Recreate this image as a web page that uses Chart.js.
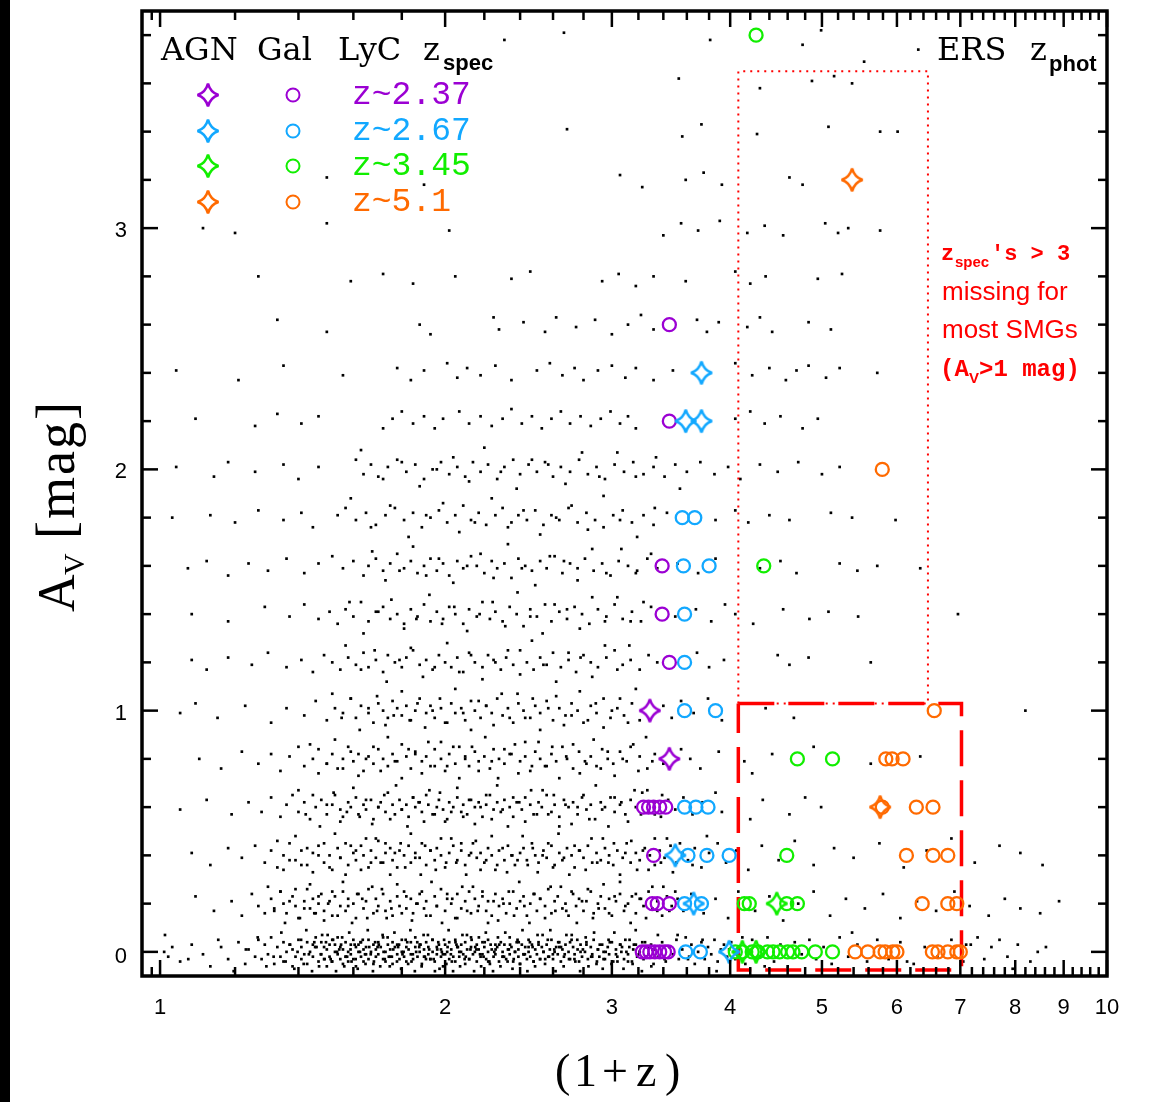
<!DOCTYPE html>
<html>
<head>
<meta charset="utf-8">
<script src="https://cdn.jsdelivr.net/npm/chart.js@4.4.1/dist/chart.umd.min.js"></script>
<style>
  html, body { margin: 0; padding: 0; background: #fff; }
  #wrap { width: 1163px; height: 1102px; }
</style>
</head>
<body>
<div id="wrap"><canvas id="c" width="1163" height="1102"></canvas></div>
<script>
// ---- background ERS photometric sample, arrays per Av step: [1+z, Av] ----
const dotsAv00 = [[1.01,0.00],[1.02,-0.02],[1.03,0.02],[1.05,-0.04],[1.08,0.03],[1.11,-0.01],[1.13,-0.06],[1.16,0.02],[1.18,-0.03],[1.21,0.04],[1.23,-0.05],[1.24,0.01],[1.26,-0.02],[1.27,0.05],
  [1.28,-0.03],[1.29,0.03],[1.30,-0.01],[1.31,0.06],[1.32,-0.05],[1.33,0.02],[1.34,-0.02],[1.35,0.04],[1.35,-0.04],[1.36,0.00],[1.37,0.03],[1.38,-0.06],[1.38,0.01],[1.39,-0.02],[1.40,0.05],[1.41,-0.03],[1.41,0.02],[1.42,-0.01],[1.43,0.04],[1.43,-0.05],[1.44,0.00],[1.45,0.03],[1.45,-0.02],[1.46,0.06],[1.47,-0.04],
  [1.48,-0.01],[1.48,0.04],[1.49,-0.03],[1.49,0.02],[1.50,-0.06],[1.50,0.01],[1.51,0.03],[1.51,-0.02],[1.52,0.05],[1.52,-0.04],[1.53,0.00],[1.53,0.03],[1.54,-0.01],[1.54,0.06],[1.55,-0.03],[1.55,0.02],[1.56,-0.05],[1.56,0.01],[1.57,0.04],[1.57,-0.02],[1.58,0.00],[1.58,-0.04],[1.59,0.03],[1.59,-0.01],[1.60,0.05],[1.60,-0.03],
  [1.61,0.02],[1.61,-0.06],[1.62,0.00],[1.62,0.03],[1.63,-0.02],[1.63,0.04],[1.64,-0.04],[1.64,0.01],[1.65,0.02],[1.65,-0.01],[1.66,0.05],[1.66,-0.03],[1.67,0.00],[1.68,0.03],[1.68,-0.05],[1.69,0.01],[1.69,-0.02],[1.70,0.04],[1.70,-0.01],[1.71,0.02],[1.72,-0.03],[1.72,0.06],[1.73,0.00],[1.73,-0.04],
  [1.74,0.03],[1.75,-0.02],[1.75,0.01],[1.76,0.04],[1.76,-0.05],[1.77,0.02],[1.78,-0.01],[1.78,0.03],[1.79,-0.03],[1.80,0.00],[1.80,0.05],[1.81,-0.02],[1.82,0.02],[1.82,-0.04],[1.83,0.01],[1.84,0.04],[1.84,-0.01],[1.85,-0.03],[1.86,0.02],[1.86,0.06],[1.87,-0.02],[1.88,0.00],[1.88,0.03],[1.89,-0.05],
  [1.90,0.01],[1.90,-0.02],[1.91,0.04],[1.92,-0.01],[1.92,0.02],[1.93,-0.03],[1.94,0.05],[1.94,0.00],[1.95,-0.04],[1.96,0.02],[1.96,-0.01],[1.97,0.03],[1.98,-0.02],[1.98,0.01],[1.99,-0.06],[2.00,0.03],[2.00,-0.01],[2.01,0.00],[2.02,0.04],[2.02,-0.03],[2.03,0.01],[2.04,-0.02],[2.05,0.05],[2.05,-0.04],
  [2.06,0.02],[2.07,0.00],[2.07,-0.02],[2.08,0.03],[2.09,-0.01],[2.10,0.04],[2.10,-0.05],[2.11,0.01],[2.12,-0.03],[2.13,0.02],[2.13,0.06],[2.14,-0.01],[2.15,0.00],[2.16,0.03],[2.16,-0.04],[2.17,0.01],[2.18,-0.02],[2.19,0.04],[2.19,-0.01],[2.20,0.02],[2.21,-0.03],[2.22,0.00],[2.22,0.05],[2.23,-0.05],
  [2.24,0.01],[2.25,-0.02],[2.26,0.03],[2.26,-0.01],[2.27,0.02],[2.28,-0.04],[2.29,0.04],[2.30,0.00],[2.30,-0.02],[2.31,0.03],[2.32,-0.03],[2.33,0.01],[2.34,0.06],[2.34,-0.01],[2.35,0.02],[2.36,-0.04],[2.37,0.00],[2.38,0.04],[2.39,-0.02],[2.39,0.01],[2.40,-0.05],[2.41,0.03],[2.42,-0.01],[2.43,0.02],
  [2.44,-0.03],[2.45,0.05],[2.45,0.00],[2.46,-0.02],[2.47,0.03],[2.48,-0.04],[2.49,0.01],[2.50,-0.01],[2.51,0.04],[2.52,-0.03],[2.53,0.02],[2.54,0.00],[2.55,-0.05],[2.56,0.03],[2.57,-0.02],[2.58,0.01],[2.59,0.05],[2.60,-0.03],[2.61,0.00],[2.62,0.02],[2.63,-0.01],[2.64,0.04],[2.65,-0.04],[2.66,0.01],
  [2.67,-0.02],[2.68,0.03],[2.70,0.00],[2.71,-0.03],[2.72,0.05],[2.73,0.02],[2.74,-0.01],[2.76,0.01],[2.77,-0.04],[2.78,0.03],[2.79,-0.02],[2.81,0.00],[2.82,0.04],[2.83,-0.03],[2.85,0.02],[2.86,-0.01],[2.87,0.05],[2.89,-0.05],[2.90,0.01],[2.91,-0.02],[2.93,0.03],[2.94,0.00],[2.95,-0.03],[2.97,0.02],
  [2.98,-0.01],[3.00,0.04],[3.01,-0.04],[3.03,0.01],[3.04,-0.02],[3.06,0.03],[3.07,0.00],[3.09,-0.03],[3.10,0.05],[3.12,-0.01],[3.13,0.02],[3.15,-0.04],[3.16,0.01],[3.18,0.03],[3.19,-0.02],[3.21,0.00],[3.23,0.04],[3.24,-0.03],[3.26,0.02],[3.28,-0.01],[3.30,0.03],[3.32,-0.05],[3.33,0.01],
  [3.36,-0.02],[3.39,0.04],[3.42,-0.04],[3.45,0.02],[3.48,-0.01],[3.51,0.05],[3.53,-0.03],[3.56,0.01],[3.59,0.06],[3.62,-0.02],[3.64,0.03],[3.67,-0.05],[3.70,0.00],[3.73,0.04],[3.76,-0.03],[3.79,0.02],[3.82,-0.01],[3.85,0.05],[3.88,-0.04],[3.91,0.01],[3.94,0.03],[3.97,-0.02],[4.01,0.04],[4.05,-0.03],[4.09,0.02],
  [4.15,-0.05],[4.22,0.05],[4.30,-0.02],[4.38,0.06],[4.45,-0.04],[4.52,0.03],[4.60,-0.06],[4.68,0.04],[4.76,-0.01],[4.85,0.05],[4.93,-0.03],[5.02,0.02],[5.12,-0.05],[5.22,0.06],[5.33,-0.02],[5.45,0.03],[5.58,-0.04],[5.72,0.05],[5.88,-0.03],[6.05,0.04],[6.25,-0.05],[6.42,0.02],[6.62,-0.02],[6.85,0.05],
  [7.05,-0.04],[7.18,0.03],[7.30,0.06],[7.42,-0.03],[7.55,0.02],[7.70,0.05],[7.85,-0.02],[8.05,0.03],[8.30,-0.04],[8.62,0.02]];
const dotsAv00b = [[1.012,0.07],[1.071,-0.03],[1.152,0.05],[1.196,-0.08],[1.232,0.01],[1.268,0.06],[1.295,-0.06],[1.318,-0.02],[1.343,0.08],[1.357,-0.04],[1.372,0.03],[1.386,-0.07],[1.397,0.00],[1.409,0.05],[1.418,-0.05],[1.427,0.09],[1.436,-0.01],[1.447,-0.08],[1.455,0.04],[1.463,0.02],[1.472,-0.06],[1.483,0.07],[1.492,-0.03],
  [1.503,0.07],[1.514,-0.03],[1.523,0.05],[1.534,-0.08],[1.546,0.01],[1.557,0.06],[1.565,-0.06],[1.576,-0.02],[1.584,0.08],[1.593,-0.04],[1.605,0.03],[1.617,-0.07],[1.626,0.00],[1.637,0.05],[1.648,-0.05],[1.657,0.09],[1.669,-0.01],[1.678,-0.08],[1.687,0.04],[1.697,0.02],[1.708,-0.06],[1.718,0.07],[1.727,-0.03],
  [1.739,0.06],[1.748,-0.06],[1.757,-0.02],[1.768,0.08],[1.779,-0.04],[1.788,0.03],[1.797,-0.07],[1.808,0.00],[1.817,0.05],[1.828,-0.05],[1.838,0.09],[1.849,-0.01],[1.858,-0.08],[1.869,0.04],[1.878,0.02],[1.889,-0.06],[1.898,0.07],[1.909,-0.03],[1.918,0.07],[1.929,-0.03],[1.939,0.05],[1.951,-0.08],[1.962,0.01],
  [1.973,-0.07],[1.984,0.00],[1.995,0.05],[2.006,-0.05],[2.017,0.09],[2.028,-0.01],[2.039,-0.08],[2.051,0.04],[2.063,0.02],[2.074,-0.06],[2.086,0.07],[2.097,-0.03],[2.109,0.07],[2.121,-0.03],[2.133,0.05],[2.146,-0.08],[2.158,0.01],[2.171,0.06],[2.183,-0.06],[2.196,-0.02],[2.208,0.08],[2.221,-0.04],[2.234,0.03],
  [2.247,-0.08],[2.261,0.01],[2.274,0.06],[2.288,-0.06],[2.301,-0.02],[2.315,0.08],[2.328,-0.04],[2.342,0.03],[2.356,-0.07],[2.371,0.00],[2.385,0.05],[2.399,-0.05],[2.414,0.09],[2.428,-0.01],[2.443,-0.08],[2.458,0.04],[2.474,0.02],[2.489,-0.06],[2.504,0.07],[2.519,-0.03],[2.535,0.07],[2.551,-0.03],[2.567,0.05],
  [2.583,0.09],[2.599,-0.01],[2.616,-0.08],[2.633,0.04],[2.651,0.02],[2.668,-0.06],[2.686,0.07],[2.703,-0.03],[2.721,0.07],[2.739,-0.03],[2.758,0.05],[2.777,-0.08],[2.796,0.01],[2.815,0.06],[2.834,-0.06],[2.853,-0.02],[2.873,0.08],[2.893,-0.04],[2.913,0.03],[2.934,-0.07],[2.955,0.00],[2.976,0.05],[2.997,-0.05],
  [3.018,0.08],[3.041,-0.04],[3.063,0.03],[3.086,-0.07],[3.108,0.00],[3.132,0.05],[3.155,-0.05],[3.179,0.09],[3.203,-0.01],[3.227,-0.08],[3.252,0.04],[3.277,0.02],[3.302,-0.06],[3.355,0.07],[3.41,-0.03],[3.52,0.07],[3.61,-0.03],[3.74,0.05],[3.87,-0.08],[3.99,0.01],[4.12,0.06],[4.35,-0.06],[4.71,-0.02],[5.38,0.08],[6.15,-0.04],[7.10,0.03],[7.95,-0.07],[8.45,0.00]];
const dotsAv00c = [[1.458,0.02],[1.478,-0.01],[1.497,0.04],[1.518,-0.04],[1.538,0.00],[1.553,0.03],[1.571,-0.02],[1.589,0.01],[1.609,-0.03],[1.628,0.04],[1.646,-0.01],[1.663,0.02],[1.682,-0.04],[1.702,0.03],[1.722,0.00],[1.744,-0.02],[1.763,0.01],
  [1.784,0.02],[1.803,-0.01],[1.824,0.04],[1.843,-0.04],[1.864,0.00],[1.884,0.03],[1.904,-0.02],[1.924,0.01],[1.945,-0.03],[1.967,0.04],[1.989,-0.01],[2.012,0.02],[2.033,-0.04],[2.056,0.03],[2.079,0.00],[2.103,-0.02],[2.127,0.01],
  [2.152,0.02],[2.177,-0.01],[2.202,0.04],[2.227,-0.04],[2.254,0.00],[2.281,0.03],[2.308,-0.02],[2.335,0.01],[2.363,-0.03],[2.392,0.04],[2.421,-0.01],[2.450,0.02],[2.480,-0.04],[2.510,0.03],[2.541,0.00],[2.575,-0.02],[2.608,0.01],
  [2.640,0.02],[2.675,-0.01],[2.710,0.04],[2.745,-0.04],[2.780,0.00],[2.820,0.03],[2.860,-0.02],[2.900,0.01],[2.940,-0.03],[2.985,0.04],[3.030,-0.01],[3.075,0.02],[3.120,-0.04],[3.165,0.03],[3.210,0.00],[3.260,-0.02],[3.310,0.01]];
const dotsAv02 = [[1.09,0.23],[1.14,0.17],[1.19,0.21],[1.22,0.15],[1.25,0.24],[1.27,0.19],[1.29,0.16],
  [1.31,0.22],[1.32,0.18],[1.34,0.25],[1.35,0.20],[1.36,0.16],[1.38,0.23],[1.39,0.19],[1.40,0.14],[1.42,0.21],[1.43,0.26],[1.44,0.18],[1.45,0.22],[1.46,0.16],[1.47,0.20],[1.48,0.24],[1.49,0.17],
  [1.51,0.21],[1.52,0.15],[1.53,0.23],[1.55,0.19],[1.56,0.25],[1.57,0.17],[1.58,0.22],[1.60,0.20],[1.61,0.14],[1.62,0.24],[1.64,0.18],[1.65,0.21],[1.66,0.26],[1.68,0.16],[1.69,0.22],[1.70,0.19],[1.72,0.24],[1.73,0.17],[1.75,0.21],[1.76,0.15],[1.78,0.23],[1.79,0.19],
  [1.81,0.25],[1.82,0.18],[1.84,0.22],[1.85,0.16],[1.87,0.20],[1.88,0.24],[1.90,0.18],[1.91,0.21],[1.93,0.15],[1.95,0.23],[1.96,0.19],[1.98,0.26],[2.00,0.17],[2.01,0.22],[2.03,0.20],[2.05,0.14],[2.06,0.24],[2.08,0.18],[2.10,0.21],[2.12,0.25],[2.13,0.16],[2.15,0.22],
  [2.17,0.19],[2.19,0.23],[2.21,0.17],[2.22,0.21],[2.24,0.15],[2.26,0.24],[2.28,0.19],[2.30,0.22],[2.32,0.16],[2.34,0.20],[2.36,0.25],[2.38,0.18],[2.40,0.21],[2.42,0.23],[2.44,0.15],[2.46,0.20],[2.48,0.24],[2.50,0.17],[2.52,0.22],[2.55,0.19],[2.57,0.26],[2.59,0.16],
  [2.61,0.21],[2.63,0.23],[2.66,0.18],[2.68,0.20],[2.70,0.15],[2.73,0.24],[2.75,0.19],[2.77,0.22],[2.80,0.17],[2.82,0.21],[2.85,0.25],[2.87,0.16],[2.90,0.20],[2.92,0.23],[2.95,0.18],[2.98,0.22],[3.00,0.15],[3.03,0.21],[3.06,0.24],[3.09,0.17],[3.12,0.20],[3.15,0.23],
  [3.18,0.16],[3.21,0.22],[3.24,0.19],[3.28,0.25],[3.31,0.18],[3.35,0.21],[3.39,0.15],[3.43,0.23],[3.47,0.19],[3.52,0.22],[3.57,0.17],
  [3.64,0.24],[3.75,0.16],[3.86,0.22],[3.98,0.14],[4.08,0.25],[4.25,0.17],[4.40,0.23],[4.55,0.13],[4.72,0.20],[4.90,0.25],[5.10,0.15],[5.30,0.22],[5.55,0.18],[5.80,0.24],[6.05,0.14],[6.30,0.21],[6.60,0.17],[6.90,0.25],[7.16,0.19],[7.50,0.15],[7.80,0.22],[8.10,0.18],[8.50,0.16],[8.90,0.21]];
const dotsAv02b = [[1.30,0.27],[1.32,0.17],[1.34,0.25],[1.355,0.12],[1.37,0.21],[1.39,0.26],[1.405,0.14],[1.42,0.18],[1.44,0.28],[1.455,0.16],[1.47,0.23],[1.49,0.13],[1.505,0.20],[1.52,0.25],[1.54,0.15],[1.56,0.29],[1.58,0.19],[1.595,0.12],[1.615,0.24],[1.635,0.22],[1.655,0.14],[1.675,0.27],[1.695,0.17],
  [1.715,0.26],[1.735,0.14],[1.755,0.18],[1.78,0.28],[1.80,0.16],[1.82,0.23],[1.845,0.13],[1.865,0.20],[1.89,0.25],[1.91,0.15],[1.935,0.29],[1.96,0.19],[1.985,0.12],[2.01,0.24],[2.035,0.22],[2.06,0.14],[2.085,0.27],[2.11,0.17],[2.14,0.27],[2.165,0.17],[2.19,0.25],[2.22,0.12],[2.25,0.21],
  [2.275,0.13],[2.305,0.20],[2.335,0.25],[2.365,0.15],[2.395,0.29],[2.425,0.19],[2.455,0.12],[2.485,0.24],[2.52,0.22],[2.55,0.14],[2.585,0.27],[2.615,0.17],[2.65,0.27],[2.685,0.17],[2.72,0.25],[2.755,0.12],[2.79,0.21],[2.83,0.26],[2.865,0.14],[2.905,0.18],[2.94,0.28],[2.98,0.16],[3.02,0.23],
  [3.06,0.29],[3.10,0.19],[3.14,0.12],[3.18,0.24],[3.22,0.22],[3.26,0.14],[3.31,0.27],[3.35,0.17],[3.40,0.27],[3.45,0.17],[3.50,0.25]];
const dotsAv04 = [[1.08,0.41],[1.13,0.36],[1.18,0.43],[1.22,0.39],[1.26,0.44],[1.29,0.37],[1.31,0.42],[1.33,0.35],[1.35,0.40],[1.37,0.45],[1.39,0.38],[1.41,0.42],[1.43,0.36],[1.45,0.41],[1.47,0.44],[1.49,0.37],[1.51,0.40],[1.52,0.34],[1.54,0.43],[1.55,0.39],[1.57,0.45],[1.58,0.36],
  [1.60,0.41],[1.61,0.38],[1.63,0.44],[1.64,0.40],[1.66,0.35],[1.67,0.42],[1.69,0.39],[1.70,0.46],[1.72,0.37],[1.73,0.41],[1.75,0.43],[1.76,0.38],[1.78,0.35],[1.79,0.42],[1.81,0.40],[1.83,0.44],[1.84,0.37],[1.86,0.41],[1.88,0.39],[1.89,0.45],[1.91,0.36],[1.93,0.42],
  [1.95,0.38],[1.96,0.43],[1.98,0.40],[2.00,0.35],[2.02,0.41],[2.04,0.44],[2.06,0.38],[2.08,0.42],[2.10,0.36],[2.12,0.40],[2.14,0.45],[2.16,0.39],[2.18,0.41],[2.20,0.37],[2.22,0.43],[2.24,0.40],[2.26,0.34],[2.28,0.42],[2.31,0.38],[2.33,0.44],[2.35,0.40],[2.37,0.36],
  [2.40,0.41],[2.42,0.43],[2.44,0.38],[2.47,0.45],[2.49,0.40],[2.51,0.37],[2.54,0.42],[2.56,0.39],[2.59,0.44],[2.61,0.36],[2.64,0.41],[2.66,0.38],[2.69,0.43],[2.72,0.40],[2.74,0.35],[2.77,0.42],[2.80,0.39],[2.83,0.44],[2.86,0.37],[2.89,0.41],[2.92,0.38],[2.95,0.43],
  [2.98,0.40],[3.01,0.36],[3.04,0.42],[3.08,0.39],[3.11,0.45],[3.14,0.37],[3.18,0.41],[3.21,0.38],[3.25,0.43],[3.29,0.40],[3.33,0.36],[3.37,0.42],[3.41,0.39],[3.46,0.44],[3.51,0.37],[3.56,0.41],[3.61,0.38],[3.67,0.43],[3.73,0.35],[3.80,0.41],[3.88,0.45],[3.96,0.37],
  [4.06,0.42],[4.18,0.34],[4.32,0.44],[4.50,0.38],[4.68,0.46],[4.90,0.36],[5.15,0.43],[5.40,0.39],[5.75,0.45],[6.10,0.35],[6.45,0.42],[6.85,0.47],[7.25,0.37],[7.70,0.44],[8.10,0.41],[8.55,0.36]];
const dotsAv04b = [[1.33,0.46],[1.35,0.34],[1.37,0.38],[1.39,0.48],[1.41,0.36],[1.43,0.43],[1.45,0.33],[1.47,0.40],[1.49,0.45],[1.51,0.35],[1.53,0.49],[1.55,0.39],[1.57,0.32],[1.59,0.44],[1.61,0.42],[1.63,0.34],[1.65,0.47],[1.67,0.37],[1.69,0.47],[1.71,0.37],[1.73,0.45],[1.75,0.32],[1.77,0.41],
  [1.795,0.45],[1.815,0.35],[1.84,0.49],[1.86,0.39],[1.885,0.32],[1.905,0.44],[1.93,0.42],[1.955,0.34],[1.98,0.47],[2.005,0.37],[2.03,0.47],[2.055,0.37],[2.08,0.45],[2.105,0.32],[2.13,0.41],[2.155,0.46],[2.18,0.34],[2.21,0.38],[2.24,0.48],[2.27,0.36],[2.30,0.43],[2.325,0.33],[2.355,0.40],
  [2.385,0.38],[2.415,0.48],[2.445,0.36],[2.475,0.43],[2.505,0.33],[2.535,0.40],[2.57,0.45],[2.60,0.35],[2.635,0.49],[2.67,0.39],[2.705,0.32],[2.74,0.44],[2.775,0.42],[2.815,0.34],[2.855,0.47],[2.895,0.37],[2.935,0.47],[2.975,0.37],[3.015,0.45],[3.06,0.32],[3.10,0.41],[3.145,0.46],[3.19,0.34],
  [3.235,0.42],[3.28,0.34],[3.33,0.47],[3.38,0.37],[3.43,0.47],[3.48,0.33],[3.54,0.45],[3.65,0.36],[3.78,0.48]];
const dotsAv06 = [[1.05,0.59],[1.12,0.63],[1.19,0.57],[1.24,0.62],[1.28,0.58],[1.31,0.64],[1.34,0.56],[1.36,0.61],[1.38,0.65],[1.40,0.58],[1.42,0.62],[1.44,0.55],[1.46,0.60],[1.48,0.63],[1.50,0.57],[1.52,0.61],[1.53,0.65],[1.55,0.59],[1.56,0.56],[1.58,0.62],[1.59,0.60],
  [1.61,0.64],[1.62,0.57],[1.64,0.61],[1.65,0.59],[1.67,0.63],[1.68,0.55],[1.70,0.60],[1.71,0.62],[1.73,0.58],[1.74,0.66],[1.76,0.61],[1.77,0.57],[1.79,0.63],[1.80,0.59],[1.82,0.61],[1.83,0.56],[1.85,0.64],[1.86,0.60],[1.88,0.62],[1.89,0.58],[1.91,0.65],[1.92,0.61],
  [1.94,0.57],[1.96,0.60],[1.97,0.63],[1.99,0.59],[2.01,0.55],[2.02,0.62],[2.04,0.60],[2.06,0.64],[2.08,0.58],[2.09,0.61],[2.11,0.57],[2.13,0.63],[2.15,0.60],[2.17,0.62],[2.19,0.56],[2.21,0.61],[2.23,0.65],[2.25,0.59],[2.27,0.62],[2.29,0.58],[2.31,0.63],[2.34,0.60],
  [2.36,0.56],[2.38,0.62],[2.41,0.59],[2.43,0.64],[2.46,0.61],[2.48,0.57],[2.51,0.62],[2.53,0.60],[2.56,0.65],[2.59,0.58],[2.61,0.61],[2.64,0.56],[2.67,0.63],[2.70,0.60],[2.73,0.62],[2.76,0.57],[2.79,0.64],[2.82,0.59],[2.85,0.61],[2.88,0.55],[2.92,0.62],[2.95,0.60],
  [2.99,0.64],[3.02,0.58],[3.06,0.61],[3.10,0.57],[3.14,0.63],[3.18,0.60],[3.23,0.66],[3.28,0.58],[3.33,0.62],[3.38,0.56],[3.44,0.63],[3.50,0.59],[3.57,0.64],[3.65,0.57],[3.74,0.62],[3.86,0.66],[3.92,0.58],[4.20,0.55],[4.33,0.63],[4.62,0.57],[4.80,0.64],[4.99,0.60]];
const dotsAv06b = [[1.40,0.67],[1.425,0.57],[1.45,0.65],[1.475,0.52],[1.50,0.61],[1.525,0.66],[1.55,0.54],[1.575,0.58],[1.60,0.68],[1.625,0.56],[1.65,0.63],[1.675,0.53],[1.70,0.60],[1.725,0.65],[1.75,0.55],[1.775,0.69],[1.80,0.59],[1.825,0.52],[1.85,0.64],[1.875,0.62],[1.90,0.54],[1.925,0.67],[1.95,0.57],
  [1.975,0.66],[2.00,0.54],[2.03,0.58],[2.06,0.68],[2.09,0.56],[2.12,0.63],[2.15,0.53],[2.18,0.60],[2.21,0.65],[2.24,0.55],[2.27,0.69],[2.30,0.59],[2.33,0.52],[2.36,0.64],[2.395,0.62],[2.43,0.54],[2.465,0.67],[2.50,0.57],[2.535,0.67],[2.57,0.57],[2.605,0.65],[2.64,0.52],[2.68,0.61],
  [2.72,0.53],[2.76,0.60],[2.80,0.65],[2.84,0.55],[2.885,0.69],[2.93,0.59],[2.975,0.52],[3.02,0.64],[3.07,0.62],[3.12,0.54],[3.17,0.67],[3.22,0.57],[3.27,0.67],[3.33,0.57],[3.39,0.65]];
const dotsAv08 = [[1.10,0.80],[1.16,0.76],[1.22,0.83],[1.27,0.78],[1.31,0.82],[1.34,0.75],[1.37,0.81],[1.40,0.85],[1.42,0.77],[1.45,0.80],[1.47,0.84],[1.50,0.78],[1.52,0.82],[1.54,0.76],[1.56,0.80],[1.58,0.85],[1.60,0.79],[1.62,0.82],[1.64,0.75],[1.66,0.81],[1.68,0.78],[1.70,0.84],
  [1.72,0.80],[1.74,0.77],[1.76,0.82],[1.78,0.79],[1.80,0.86],[1.82,0.81],[1.84,0.76],[1.86,0.83],[1.89,0.79],[1.91,0.81],[1.93,0.77],[1.95,0.84],[1.98,0.80],[2.00,0.75],[2.02,0.82],[2.05,0.78],[2.07,0.85],[2.10,0.80],[2.12,0.77],[2.15,0.83],[2.17,0.79],[2.20,0.81],
  [2.23,0.76],[2.25,0.84],[2.28,0.80],[2.31,0.78],[2.34,0.82],[2.37,0.86],[2.40,0.79],[2.43,0.81],[2.46,0.75],[2.49,0.83],[2.52,0.80],[2.56,0.77],[2.59,0.82],[2.62,0.79],[2.66,0.85],[2.69,0.80],[2.73,0.76],[2.77,0.83],[2.81,0.79],[2.85,0.81],[2.89,0.77],[2.93,0.84],
  [2.97,0.80],[3.01,0.78],[3.06,0.83],[3.11,0.79],[3.16,0.86],[3.21,0.81],[3.27,0.76],[3.33,0.82],[3.40,0.78],[3.55,0.84],[3.63,0.80],[3.72,0.76],[3.89,0.83],[4.14,0.79],[4.22,0.74],[4.43,0.82],[4.90,0.85],[5.63,0.78],[6.35,0.81]];
const dotsAv08b = [[1.44,0.86],[1.47,0.74],[1.50,0.78],[1.53,0.88],[1.56,0.76],[1.59,0.83],[1.62,0.73],[1.65,0.80],[1.68,0.85],[1.71,0.75],[1.74,0.89],[1.77,0.79],[1.80,0.72],[1.83,0.84],[1.86,0.82],[1.89,0.74],[1.92,0.87],[1.95,0.77],[1.98,0.87],[2.01,0.77],[2.04,0.85],[2.07,0.72],[2.10,0.81],
  [2.135,0.85],[2.17,0.75],[2.205,0.89],[2.24,0.79],[2.275,0.72],[2.31,0.84],[2.35,0.82],[2.39,0.74],[2.43,0.87],[2.47,0.77],[2.51,0.87],[2.55,0.77],[2.595,0.85],[2.64,0.72],[2.685,0.81],[2.73,0.86],[2.775,0.74],[2.82,0.78],[2.87,0.88],[2.92,0.76],[2.97,0.83],[3.02,0.73],[3.08,0.80],[3.14,0.85],[3.20,0.75],[3.26,0.89],[3.31,0.79]];
const dotsAv10 = [[1.05,0.99],[1.09,1.03],[1.15,0.97],[1.23,1.02],[1.31,0.95],[1.36,1.01],[1.42,0.98],[1.46,1.04],[1.50,0.96],[1.53,1.01],[1.56,0.99],[1.59,1.05],[1.61,0.97],[1.63,1.02],[1.66,0.99],[1.68,0.95],[1.70,1.03],[1.72,1.00],[1.74,0.97],[1.76,1.04],[1.78,1.01],
  [1.80,0.98],[1.82,1.02],[1.84,0.96],[1.86,1.00],[1.88,1.05],[1.91,0.99],[1.93,1.02],[1.95,0.97],[1.98,1.01],[2.00,0.95],[2.03,1.03],[2.05,0.99],[2.08,1.01],[2.10,0.96],[2.13,1.04],[2.15,1.00],[2.18,0.97],[2.21,1.02],[2.24,0.99],[2.27,1.05],[2.30,0.98],
  [2.33,1.01],[2.36,0.95],[2.39,1.03],[2.42,1.00],[2.46,0.97],[2.49,1.02],[2.52,0.99],[2.56,1.04],[2.60,0.96],[2.64,1.01],[2.68,0.98],[2.72,1.03],[2.76,1.00],[2.80,0.95],[2.85,1.02],[2.89,0.99],[2.94,1.05],[2.99,0.97],[3.04,1.01],[3.09,0.98],[3.15,1.03],
  [3.21,0.96],[3.40,1.02],[3.47,0.97],[3.55,1.04],[3.66,0.99],[3.79,1.05],[3.92,0.96],[4.36,1.01],[4.67,0.97],[8.20,1.00]];
const dotsAv10b = [[1.52,1.07],[1.555,0.97],[1.59,1.05],[1.625,0.92],[1.66,1.01],[1.695,1.06],[1.73,0.94],[1.765,0.98],[1.80,1.08],[1.835,0.96],[1.87,1.03],[1.905,0.93],[1.94,1.00],[1.975,1.05],[2.01,0.95],[2.05,1.09],[2.09,0.99],[2.13,0.92],[2.17,1.04],[2.21,1.02],
  [2.25,0.94],[2.295,1.07],[2.34,0.97],[2.385,1.07],[2.43,0.97],[2.475,1.05],[2.52,0.92],[2.57,1.01],[2.62,1.06],[2.67,0.94],[2.72,0.98],[2.775,1.08],[2.83,0.96],[2.885,1.03],[2.94,0.93],[3.00,1.00],[3.06,1.05],[3.12,0.95],[3.18,1.09]];
const dotsAv12 = [[1.08,1.21],[1.12,1.17],[1.18,1.22],[1.25,1.19],[1.30,1.24],[1.36,1.18],[1.41,1.21],[1.45,1.16],[1.49,1.23],[1.52,1.20],[1.55,1.17],[1.58,1.22],[1.61,1.19],[1.64,1.24],[1.66,1.18],[1.69,1.21],[1.72,1.16],[1.74,1.23],[1.77,1.20],[1.80,1.18],[1.82,1.22],
  [1.85,1.25],[1.88,1.19],[1.91,1.21],[1.94,1.17],[1.97,1.23],[2.00,1.20],[2.03,1.18],[2.06,1.22],[2.09,1.16],[2.12,1.24],[2.15,1.20],[2.19,1.18],[2.22,1.23],[2.25,1.21],[2.29,1.17],[2.32,1.22],[2.36,1.19],[2.40,1.25],[2.44,1.20],[2.48,1.17],[2.52,1.22],
  [2.56,1.19],[2.60,1.24],[2.65,1.18],[2.70,1.21],[2.75,1.16],[2.80,1.23],[2.85,1.20],[2.90,1.18],[2.96,1.22],[3.02,1.25],[3.08,1.19],[3.14,1.21],[3.21,1.17],[3.28,1.23],[3.35,1.20],[3.69,1.24],[3.80,1.18],[3.94,1.21],[4.49,1.23],[4.62,1.19],[4.84,1.22],[5.63,1.20],
  [1.57,1.27],[1.63,1.17],[1.685,1.25],[1.735,1.12],[1.79,1.21],[1.84,1.26],[1.895,1.14],[1.95,1.18],[2.01,1.28],[2.07,1.16],[2.13,1.23],[2.19,1.13],[2.26,1.20],[2.33,1.25],[2.40,1.15],[2.47,1.29],[2.54,1.19],[2.62,1.12],[2.70,1.24],[2.78,1.22],[2.86,1.14],[2.95,1.27],[3.04,1.17],[3.13,1.27]];
const dotsAv14 = [[1.08,1.40],[1.18,1.37],[1.29,1.43],[1.37,1.39],[1.42,1.44],[1.47,1.38],[1.51,1.41],[1.54,1.36],[1.57,1.42],[1.60,1.39],[1.63,1.45],[1.66,1.37],[1.69,1.41],[1.72,1.43],[1.75,1.38],[1.78,1.40],[1.81,1.36],[1.84,1.42],[1.87,1.39],[1.90,1.44],[1.93,1.37],
  [1.96,1.41],[1.99,1.38],[2.02,1.43],[2.05,1.40],[2.09,1.36],[2.12,1.42],[2.16,1.39],[2.19,1.45],[2.23,1.38],[2.26,1.41],[2.30,1.37],[2.34,1.43],[2.38,1.40],[2.42,1.35],[2.46,1.42],[2.50,1.39],[2.55,1.44],[2.59,1.37],[2.64,1.41],[2.69,1.38],[2.74,1.43],
  [2.79,1.40],[2.84,1.36],[2.90,1.42],[2.96,1.39],[3.02,1.44],[3.08,1.38],[3.15,1.41],[3.22,1.37],[3.30,1.43],[3.50,1.39],[3.68,1.42],[3.82,1.37],[3.95,1.44],[4.05,1.40],[4.23,1.36],[4.55,1.42],[4.85,1.38],[5.08,1.41],[5.46,1.39],[6.96,1.40],
  [1.585,1.45],[1.64,1.32],[1.70,1.41],[1.755,1.46],[1.81,1.34],[1.865,1.38],[1.925,1.48],[1.985,1.36],[2.045,1.43],[2.11,1.33],[2.175,1.40],[2.245,1.45],[2.315,1.35],[2.385,1.49],[2.46,1.39],[2.535,1.32],[2.61,1.44],[2.69,1.42],[2.775,1.34],[2.86,1.47],[2.95,1.37],[3.04,1.47],[3.14,1.37],[3.24,1.45]];
const dotsAv16 = [[1.07,1.59],[1.12,1.62],[1.18,1.56],[1.24,1.61],[1.30,1.58],[1.36,1.63],[1.42,1.57],[1.47,1.61],[1.52,1.64],[1.56,1.59],[1.60,1.62],[1.64,1.56],[1.66,1.60],[1.69,1.63],[1.72,1.58],[1.75,1.61],[1.78,1.65],[1.81,1.59],[1.84,1.62],[1.87,1.57],[1.90,1.60],
  [1.93,1.63],[1.96,1.58],[1.99,1.61],[2.02,1.56],[2.06,1.62],[2.09,1.59],[2.13,1.64],[2.16,1.60],[2.20,1.57],[2.24,1.62],[2.27,1.59],[2.31,1.61],[2.35,1.55],[2.39,1.63],[2.43,1.60],[2.47,1.58],[2.52,1.62],[2.56,1.59],[2.61,1.64],[2.66,1.57],[2.71,1.61],
  [2.76,1.59],[2.81,1.63],[2.87,1.58],[2.93,1.61],[2.99,1.56],[3.05,1.62],[3.12,1.60],[3.19,1.58],[3.27,1.63],[3.35,1.59],[3.52,1.61],[3.70,1.57],[3.86,1.63],[4.30,1.59],[4.52,1.62],[4.70,1.57],[5.22,1.61],[5.45,1.58],[5.72,1.60],[6.35,1.59],
  [1.675,1.66],[1.73,1.54],[1.79,1.58],[1.85,1.68],[1.91,1.56],[1.97,1.63],[2.04,1.53],[2.11,1.60],[2.18,1.65],[2.25,1.55],[2.33,1.69],[2.41,1.59],[2.49,1.52],[2.58,1.64],[2.67,1.62],[2.76,1.54],[2.86,1.67],[2.96,1.57],[3.07,1.67],[3.18,1.57],[3.30,1.65]];
const dotsAv18 = [[1.03,1.80],[1.13,1.81],[1.20,1.78],[1.27,1.83],[1.35,1.79],[1.41,1.82],[1.45,1.76],[1.54,1.81],[1.57,1.84],[1.61,1.79],[1.65,1.82],[1.69,1.77],[1.73,1.81],[1.77,1.84],[1.81,1.79],[1.85,1.82],[1.89,1.76],[1.93,1.80],[1.97,1.83],[2.01,1.78],[2.05,1.81],
  [2.09,1.85],[2.13,1.79],[2.17,1.82],[2.21,1.77],[2.26,1.81],[2.30,1.84],[2.35,1.78],[2.39,1.81],[2.44,1.79],[2.49,1.83],[2.54,1.77],[2.59,1.81],[2.64,1.79],[2.70,1.84],[2.76,1.78],[2.82,1.82],[2.88,1.79],[2.94,1.76],[3.01,1.81],[3.08,1.83],[3.15,1.78],
  [3.24,1.81],[3.32,1.77],[3.43,1.82],[3.86,1.79],[4.05,1.83],[4.18,1.78],[4.40,1.81],[4.62,1.79],[5.11,1.82],[5.38,1.80],[5.98,1.79],
  [1.59,1.88],[1.67,1.76],[1.75,1.85],[1.83,1.72],[1.91,1.81],[1.99,1.86],[2.07,1.74],[2.15,1.78],[2.24,1.88],[2.33,1.76],[2.42,1.83],[2.52,1.73],[2.62,1.80],[2.72,1.85],[2.83,1.75],[2.94,1.89],[3.06,1.79],[3.19,1.72],[3.33,1.84]];
const dotsAv20 = [[1.04,2.01],[1.14,1.97],[1.18,2.03],[1.26,1.99],[1.35,2.02],[1.40,1.96],[1.47,2.01],[1.61,2.04],[1.64,1.98],[1.67,2.02],[1.70,1.97],[1.74,2.01],[1.78,2.04],[1.82,1.99],[1.86,2.02],[1.90,1.96],[1.94,2.00],[1.98,2.03],[2.02,1.98],[2.06,2.01],[2.10,1.97],
  [2.14,2.03],[2.18,1.99],[2.22,2.02],[2.27,1.96],[2.31,2.01],[2.36,2.04],[2.40,1.98],[2.45,2.02],[2.50,1.99],[2.55,2.03],[2.60,1.97],[2.65,2.01],[2.71,1.99],[2.77,2.04],[2.83,1.98],[2.89,2.01],[2.95,1.96],[3.02,2.02],[3.09,1.99],[3.16,2.03],[3.24,1.98],
  [3.32,2.01],[3.41,1.97],[3.50,2.02],[3.60,1.99],[3.72,2.03],[3.85,1.98],[3.98,2.01],[4.10,1.96],[4.30,2.02],[4.49,1.99],[4.72,2.03],[5.00,1.98],[5.22,2.01],
  [1.63,2.08],[1.72,1.96],[1.80,2.03],[1.88,1.93],[1.96,2.00],[2.04,2.05],[2.12,1.95],[2.20,2.09],[2.29,1.99],[2.38,1.92],[2.47,2.04],[2.57,2.02],[2.68,1.94],[2.79,2.07],[2.91,1.97],[3.04,2.07],[3.18,1.97],[3.34,2.05],[3.54,1.92]];
const dotsAv22 = [[1.09,2.21],[1.26,2.18],[1.33,2.23],[1.41,2.19],[1.47,2.22],[1.72,2.17],[1.76,2.21],[1.80,2.24],[1.85,2.19],[1.90,2.22],[1.95,2.17],[1.99,2.21],[2.07,2.24],[2.12,2.19],[2.18,2.22],[2.24,2.18],[2.30,2.21],[2.35,2.25],[2.41,2.19],[2.47,2.22],[2.53,2.17],
  [2.59,2.21],[2.65,2.24],[2.71,2.19],[2.78,2.22],[2.85,2.18],[2.92,2.21],[2.99,2.24],[3.06,2.19],[3.12,2.22],[3.18,2.17],[4.05,2.21],[4.20,2.24],[4.35,2.19],[4.52,2.22],[4.77,2.17],[4.95,2.21]];
const dotsAv24 = [[1.04,2.41],[1.21,2.37],[1.35,2.43],[1.56,2.39],[1.78,2.42],[1.84,2.37],[1.90,2.41],[2.01,2.44],[2.06,2.38],[2.11,2.42],[2.18,2.39],[2.26,2.43],[2.35,2.37],[2.50,2.41],[2.58,2.44],[2.66,2.39],[2.74,2.42],[2.80,2.37],[2.90,2.41],[3.00,2.43],[3.10,2.38],
  [3.18,2.42],[3.32,2.37],[3.48,2.41],[4.05,2.44],[4.22,2.39],[4.40,2.42],[4.58,2.37],[4.70,2.41],[4.84,2.43],[5.05,2.38],[5.22,2.42],[5.72,2.40]];
const dotsAv26 = [[1.33,2.62],[1.50,2.57],[1.88,2.60],[1.93,2.56],[2.25,2.63],[2.28,2.58],[2.42,2.61],[2.55,2.57],[2.62,2.63],[2.75,2.59],[2.88,2.62],[3.00,2.56],[3.12,2.60],[3.22,2.64],[3.32,2.58],[3.69,2.62],[3.78,2.57],[3.89,2.61],[4.17,2.59],[4.30,2.63],[4.43,2.57],[4.84,2.61],[5.11,2.58]];
const dotsAv28 = [[1.27,2.80],[1.59,2.78],[1.72,2.81],[1.85,2.77],[2.05,2.80],[2.35,2.79],[2.46,2.82],[2.93,2.78],[3.05,2.81],[3.18,2.76],[3.32,2.80],[3.59,2.78],[4.05,2.82],[4.20,2.77],[4.36,2.80],[4.95,2.79],[5.25,2.81]];
const dotsAv30 = [[1.11,3.00],[1.20,2.98],[1.50,3.02],[2.02,2.99],[3.40,2.97],[3.55,3.02],[3.70,2.99],[3.90,3.03],[4.17,2.98],[4.35,3.01],[4.55,2.97],[5.04,3.02],[5.20,2.98],[5.33,3.00],[5.76,2.99]];
const dotsAvHigh = [[1.50,3.21],[1.90,3.18],[3.06,3.22],[3.23,3.17],[3.59,3.20],[3.75,3.23],[3.92,3.18],[4.62,3.21],[4.77,3.18],
  [2.69,3.41],[3.56,3.38],[3.73,3.43],[4.27,3.39],[5.08,3.42],[5.76,3.40],[6.01,3.40],
  [3.53,3.62],[4.30,3.58],[4.88,3.61],[5.15,3.63],[5.38,3.60],
  [2.31,3.78],[2.67,3.81],[3.81,3.78],[4.77,3.76],[4.99,3.82],[5.54,3.69],[6.32,3.74]];

// ---- spectroscopic LyC candidates: galaxies (circles) and AGN (stars) ----
const galZ237 = [[3.45,2.6],[3.45,2.2],[3.39,1.6],[3.39,1.4],[3.45,1.2],[3.24,0.6],[3.28,0.6],[3.32,0.6],[3.37,0.6],[3.42,0.6],[3.32,0.4],[3.31,0.2],[3.35,0.2],[3.45,0.2],[3.23,0],[3.26,0],[3.29,0],[3.33,0],[3.37,0],[3.41,0],[3.44,0]];
const agnZ237 = [[3.29,1.0],[3.45,0.8]];
const galZ267 = [[3.56,1.8],[3.67,1.8],[3.57,1.6],[3.80,1.6],[3.58,1.4],[3.58,1.2],[3.58,1.0],[3.86,1.0],[3.58,0.6],[3.68,0.6],[3.79,0.6],[3.61,0.4],[3.78,0.4],[3.99,0.4],[3.58,0.2],[3.73,0.2],[3.59,0],[3.72,0]];
const agnZ267 = [[3.73,2.4],[3.59,2.2],[3.73,2.2],[3.50,0.4],[3.66,0.2],[3.99,0]];
const galZ345 = [[4.26,3.8],[4.34,1.6],[4.71,0.8],[5.13,0.8],[4.59,0.4],[4.14,0.2],[4.19,0.2],[4.59,0.2],[4.71,0.2],[4.05,0],[4.12,0],[4.22,0],[4.28,0],[4.38,0],[4.44,0],[4.51,0],[4.60,0],[4.66,0],[4.76,0],[4.92,0],[5.13,0]];
const agnZ345 = [[4.48,0.2],[4.12,0],[4.26,0]];
const galZ51 = [[5.79,2.0],[6.57,1.0],[5.84,0.8],[5.93,0.8],[6.09,0.8],[5.79,0.6],[6.29,0.6],[6.55,0.6],[6.14,0.4],[6.55,0.4],[6.79,0.4],[6.38,0.2],[6.79,0.2],[6.94,0.2],[5.42,0],[5.59,0],[5.76,0],[5.83,0],[5.94,0],[6.00,0],[6.54,0],[6.63,0],[6.79,0],[6.94,0],[7.00,0]];
const agnZ51 = [[5.38,3.2],[5.76,0.6]];

// red boxes: SMG region (dashed) and zspec-missing region (dotted)
const smgBox = [[4.08,1.03],[7.02,1.03],[7.02,-0.075],[4.08,-0.075],[4.08,1.03]];
const missingBox = [[4.08,1.03],[4.08,3.65],[6.47,3.65],[6.47,1.03],[4.08,1.03]];

const legendLabels = ['z~2.37', 'z~2.67', 'z~3.45', 'z~5.1'];
const groupColors = ['#9b00d3', '#12a8ff', '#11ee00', '#ff6a00'];
const xTicks = [1, 2, 3, 4, 5, 6, 7, 8, 9, 10];
const xTickLabels = ['1', '2', '3', '4', '5', '6', '7', '8', '9', '10'];
const yTicks = [0, 1, 2, 3];
const yTickLabels = ['0', '1', '2', '3'];

const bgDots = [].concat(dotsAv00, dotsAv00b, dotsAv00c, dotsAv02, dotsAv02b, dotsAv04, dotsAv04b, dotsAv06, dotsAv06b,
  dotsAv08, dotsAv08b, dotsAv10, dotsAv10b, dotsAv12, dotsAv14, dotsAv16, dotsAv18, dotsAv20, dotsAv22, dotsAv24,
  dotsAv26, dotsAv28, dotsAv30, dotsAvHigh);

// 4-point star with concave sides
function makeStar(color) {
  const c = document.createElement('canvas');
  c.width = 28; c.height = 30;
  const g = c.getContext('2d');
  const cx = 14, cy = 15, rx = 10.5, ry = 11.5, k = 0.22;
  g.strokeStyle = color;
  g.lineWidth = 2.6;
  g.lineJoin = 'miter';
  g.miterLimit = 3;
  g.beginPath();
  g.moveTo(cx, cy - ry);
  g.quadraticCurveTo(cx + k * rx, cy - k * ry, cx + rx, cy);
  g.quadraticCurveTo(cx + k * rx, cy + k * ry, cx, cy + ry);
  g.quadraticCurveTo(cx - k * rx, cy + k * ry, cx - rx, cy);
  g.quadraticCurveTo(cx - k * rx, cy - k * ry, cx, cy - ry);
  g.closePath();
  g.stroke();
  return c;
}
const stars = groupColors.map(makeStar);

const toXY = arr => arr.map(p => ({ x: p[0], y: p[1] }));

function galSet(data, i) {
  return { data: toXY(data), order: 1, pointStyle: 'circle', pointRadius: 6.5, borderWidth: 2.3,
    borderColor: groupColors[i], backgroundColor: 'rgba(0,0,0,0)' };
}
function agnSet(data, i) {
  return { data: toXY(data), order: 0, pointStyle: stars[i], pointRadius: 10 };
}

const datasets = [
  galSet(galZ237, 0), galSet(galZ267, 1), galSet(galZ345, 2), galSet(galZ51, 3),
  agnSet(agnZ237, 0), agnSet(agnZ267, 1), agnSet(agnZ345, 2), agnSet(agnZ51, 3),
  { data: toXY(smgBox), order: 2, showLine: true, pointRadius: 0, borderColor: '#ff0000',
    borderWidth: 3.5, borderDash: [36, 14], fill: false },
  { data: toXY(missingBox), order: 2, showLine: true, pointRadius: 0, borderColor: '#ff0000',
    borderWidth: 2, borderDash: [2, 5], fill: false },
  { data: toXY(bgDots), order: 3, pointStyle: 'rect', pointRadius: 1.9, borderWidth: 0,
    backgroundColor: '#000', borderColor: '#000' }
];

const SERIF = '"Liberation Serif", "DejaVu Serif", serif';
const HEAD = '"DejaVu Serif", "Liberation Serif", serif';
const SANS = '"Liberation Sans", Arial, sans-serif';
const MONO = '"Liberation Mono", "DejaVu Sans Mono", monospace';

const decor = {
  id: 'decor',
  beforeDraw(chart) {
    const ctx = chart.ctx;
    ctx.save();
    ctx.fillStyle = '#fff';
    ctx.fillRect(0, 0, chart.width, chart.height);
    ctx.fillStyle = '#000';
    ctx.fillRect(0, 0, 10, chart.height);
    ctx.restore();
  },
  afterDraw(chart) {
    const { ctx, chartArea: a, scales: { x, y } } = chart;
    ctx.save();
    // ticks on all four sides, pointing inward
    ctx.strokeStyle = '#000';
    ctx.lineWidth = 2.5;
    const line = (x1, y1, x2, y2) => { ctx.beginPath(); ctx.moveTo(x1, y1); ctx.lineTo(x2, y2); ctx.stroke(); };
    const xMinor = [0.98];
    for (let v = 1.2; v < 10; v += 0.2) if (Math.abs(v - Math.round(v)) > 0.01) xMinor.push(v);
    xTicks.forEach(v => { const p = x.getPixelForValue(v); line(p, a.bottom, p, a.bottom - 16); line(p, a.top, p, a.top + 16); });
    xMinor.forEach(v => { const p = x.getPixelForValue(v); line(p, a.bottom, p, a.bottom - 9); line(p, a.top, p, a.top + 9); });
    for (let v = 0; v < 3.95; v += 0.2) {
      const p = y.getPixelForValue(v);
      const major = Math.abs(v - Math.round(v)) < 0.01;
      const len = major ? 16 : 9;
      line(a.left, p, a.left + len, p);
      line(a.right, p, a.right - len, p);
    }
    // frame
    ctx.lineWidth = 3.5;
    ctx.strokeRect(a.left, a.top, a.right - a.left, a.bottom - a.top);

    // tick labels
    ctx.fillStyle = '#000';
    ctx.font = '22px ' + SANS;
    ctx.textAlign = 'center';
    ctx.textBaseline = 'middle';
    xTicks.forEach((v, i) => ctx.fillText(xTickLabels[i], x.getPixelForValue(v), 1008));
    ctx.textAlign = 'right';
    yTicks.forEach((v, i) => ctx.fillText(yTickLabels[i], 127, y.getPixelForValue(v) + (v === 0 ? 5 : 3)));

    // axis titles
    ctx.textBaseline = 'alphabetic';
    ctx.textAlign = 'left';
    ctx.font = '46px ' + SERIF;
    const xt = ['(', '1', '+', 'z', ')'];
    const xtPos = [555, 574, 602, 636, 665];
    xt.forEach((s, i) => ctx.fillText(s, xtPos[i], 1086));
    ctx.save();
    ctx.translate(74, 495);
    ctx.rotate(-Math.PI / 2);
    ctx.font = '52px ' + SERIF;
    ctx.fillText('A', -117, 0);
    ctx.font = '30px ' + SERIF;
    ctx.fillText('V', -80, 10);
    ctx.font = '54px ' + SERIF;
    ctx.letterSpacing = '2px';
    ctx.fillText('[mag]', -44, 0);
    ctx.letterSpacing = '0px';
    ctx.restore();

    // header of the legend block
    ctx.font = '32px ' + HEAD;
    ctx.fillText('AGN', 161, 60);
    ctx.fillText('Gal', 257, 60);
    ctx.fillText('LyC', 338, 60);
    ctx.fillText('z', 423, 60);
    ctx.fillText('ERS', 937, 60);
    ctx.fillText('z', 1030, 60);
    ctx.font = 'bold 22px ' + SANS;
    ctx.fillText('spec', 443, 70);
    ctx.fillText('phot', 1049, 71);

    // legend rows
    const rowY = [95, 131, 166, 202];
    legendLabels.forEach((lab, i) => {
      ctx.drawImage(stars[i], 208 - 14, rowY[i] - 15);
      ctx.beginPath();
      ctx.strokeStyle = groupColors[i];
      ctx.lineWidth = 2;
      ctx.arc(293, rowY[i], 6.5, 0, Math.PI * 2);
      ctx.stroke();
      ctx.fillStyle = groupColors[i];
      ctx.font = '33px ' + MONO;
      ctx.fillText(lab, 352, rowY[i] + 9);
    });

    // red annotation
    ctx.fillStyle = '#ff0000';
    ctx.font = 'bold 22px ' + MONO;
    ctx.fillText('z', 941, 260);
    ctx.font = 'bold 15px ' + SANS;
    ctx.fillText('spec', 955, 267);
    ctx.font = 'bold 22px ' + MONO;
    ctx.fillText("'s > 3", 991, 260);
    ctx.font = '26px ' + SANS;
    ctx.fillText('missing for', 942, 300);
    ctx.fillText('most SMGs', 942, 338);
    ctx.font = 'bold 24px ' + MONO;
    ctx.fillText('(A', 940, 376);
    ctx.font = 'bold 15px ' + SANS;
    ctx.fillText('V', 969, 383);
    ctx.font = 'bold 24px ' + MONO;
    ctx.fillText('>1 mag)', 979, 376);
    ctx.restore();
  }
};

new Chart(document.getElementById('c'), {
  type: 'scatter',
  data: { datasets },
  options: {
    responsive: false,
    animation: false,
    events: [],
    devicePixelRatio: 1,
    layout: { padding: { left: 142, right: 56, top: 11, bottom: 126 } },
    plugins: { legend: { display: false }, tooltip: { enabled: false } },
    scales: {
      x: { type: 'logarithmic', min: 0.957, max: 10, display: false },
      y: { type: 'linear', min: -0.1, max: 3.9, display: false }
    }
  },
  plugins: [decor]
});
</script>
</body>
</html>
